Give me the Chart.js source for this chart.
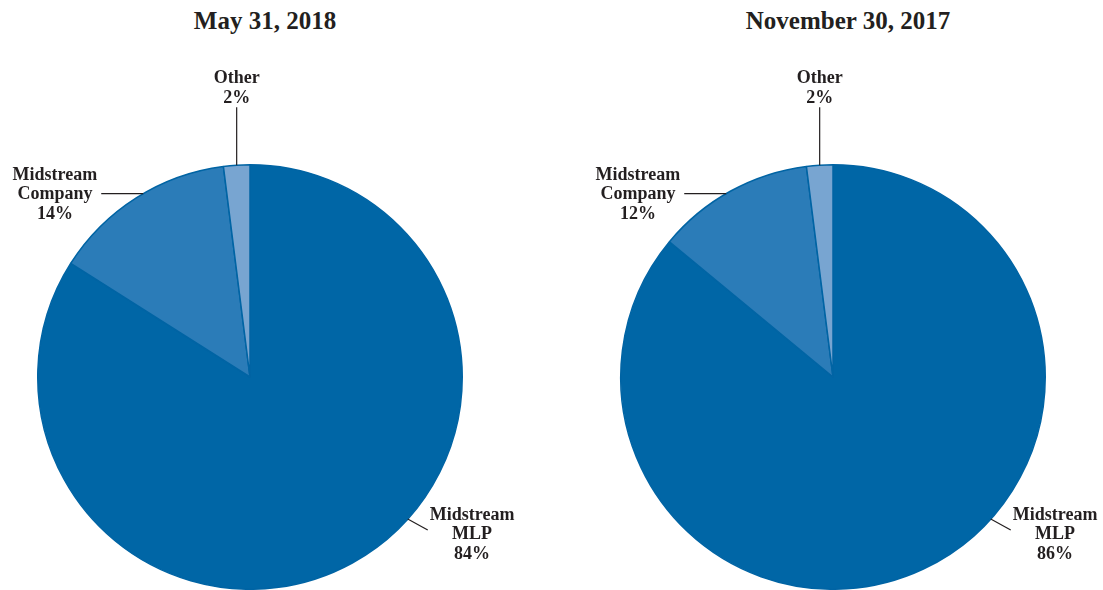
<!DOCTYPE html>
<html>
<head>
<meta charset="utf-8">
<script src="https://cdn.jsdelivr.net/npm/chart.js@4.4.1/dist/chart.umd.min.js"></script>
<style>
  html, body { margin: 0; padding: 0; background: #fff; }
  body { width: 1103px; height: 590px; position: relative; overflow: hidden; }
  .box { position: absolute; top: 0; height: 590px; }
  .titulo {
    position: absolute; top: 8px; width: 530px; text-align: center;
    font: bold 25px "Liberation Serif", "Times New Roman", serif;
    line-height: 26px; color: #231f20;
  }
</style>
</head>
<body>
<div class="titulo" style="left:0">May 31, 2018</div>
<div class="titulo" style="left:583px">November 30, 2017</div>
<div class="box" style="left:0;width:551px"><canvas id="pie1"></canvas></div>
<div class="box" style="left:551px;width:552px"><canvas id="pie2"></canvas></div>
<script>
// ==========================
// DADOS
// ==========================
const categorias = ["Midstream MLP", "Midstream Company", "Other"];
const rotulos = [["Midstream", "MLP"], ["Midstream", "Company"], ["Other"]];
const maio2018 = [84, 14, 2];
const novembro2017 = [86, 12, 2];

const cores = ["#0066a6", "#2b7cb8", "#78a5d1"];
const COR_BORDA = "#0064a4";
const COR_TEXTO = "#231f20";

// posicao das linhas-guia: angulo (graus, a partir do topo, horario) e vetor
const guias = [
  { ang: 132, dx: 20, dy: 11, lado: "direita" },
  { ang: -30.2, dx: -42, dy: 0, lado: "esquerda" },
  { ang: -3.6, dx: 0, dy: -58, lado: "cima" },
];

// ==========================
// PLUGIN ROTULOS
// ==========================
const pluginRotulos = {
  id: "rotulos",
  afterDatasetsDraw(chart) {
    const ctx = chart.ctx;
    const meta = chart.getDatasetMeta(0);
    const valores = chart.data.datasets[0].data;
    ctx.save();
    ctx.font = 'bold 18px "Liberation Serif", "Times New Roman", serif';
    ctx.fillStyle = COR_TEXTO;
    ctx.strokeStyle = "#231f20";
    ctx.lineWidth = 1.2;
    ctx.textAlign = "center";
    ctx.textBaseline = "middle";

    meta.data.forEach((arco, i) => {
      const g = guias[i];
      const r = arco.outerRadius;
      const a = g.ang * Math.PI / 180;
      const x0 = arco.x + r * Math.sin(a);
      const y0 = arco.y - r * Math.cos(a);
      const x1 = x0 + g.dx;
      const y1 = y0 + g.dy;

      ctx.beginPath();
      ctx.moveTo(x0, y0);
      ctx.lineTo(x1, y1);
      ctx.stroke();

      const linhas = rotulos[i].concat([valores[i] + "%"]);
      const larg = Math.max(...linhas.map(t => ctx.measureText(t).width));
      const passo = 19.7;
      let cx, cy;
      if (g.lado === "direita") {
        cx = x1 + 2 + larg / 2;
        cy = y1 - 15;
      } else if (g.lado === "esquerda") {
        cx = x1 - 4 - larg / 2;
        cy = y1 + 1 - passo * (linhas.length - 1) / 2;
      } else {
        cx = x1;
        cy = y1 - 9 - passo * (linhas.length - 1);
      }
      linhas.forEach((t, k) => ctx.fillText(t, cx, cy + k * passo));
    });
    ctx.restore();
  },
};

// ==========================
// GRAFICOS
// ==========================
function criarPizza(id, dados, padding) {
  const ctx = document.getElementById(id).getContext("2d");
  return new Chart(ctx, {
    type: "pie",
    data: {
      labels: categorias,
      datasets: [
        {
          data: dados,
          backgroundColor: cores,
          borderColor: COR_BORDA,
          borderWidth: 1.5,
        },
      ],
    },
    options: {
      responsive: true,
      maintainAspectRatio: false,
      animation: false,
      layout: { padding: padding },
      plugins: {
        legend: { display: false },
        tooltip: { enabled: false },
      },
    },
    plugins: [pluginRotulos],
  });
}

window.onload = function () {
  criarPizza("pie1", maio2018, { left: 37, right: 88, top: 164, bottom: 0 });
  criarPizza("pie2", novembro2017, { left: 69, right: 57, top: 164, bottom: 0 });
};
</script>
</body>
</html>
